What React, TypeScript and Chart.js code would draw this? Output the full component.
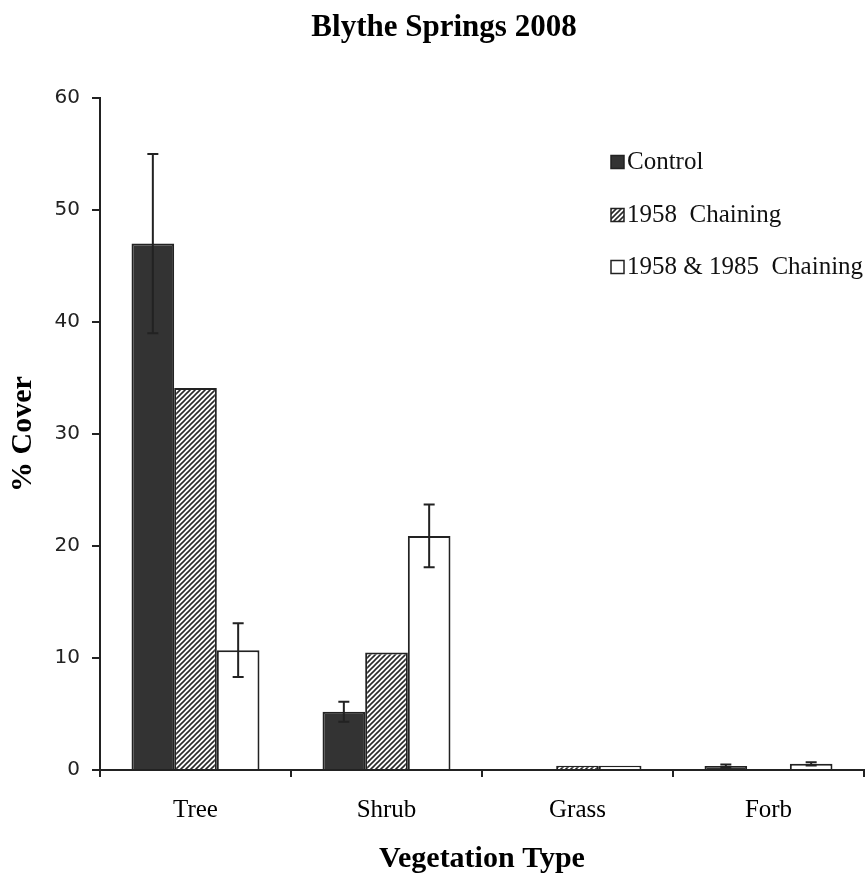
import React, { useEffect, useRef } from "react";
import { Chart, registerables } from "chart.js";

Chart.register(...registerables);

// ---- data ----
const categories = ["Tree", "Shrub", "Grass", "Forb"];
const seriesNames = ["Control", "1958  Chaining", "1958 & 1985  Chaining"];
const controlValues = [47.0, 5.2, 0, 0.35];
const chain1958Values = [34.1, 10.5, 0.38, 0];
const chain19581985Values = [10.7, 20.9, 0.38, 0.55];
const controlErrors: (number | null)[] = [8.0, 0.9, null, 0.15];
const chain1958Errors: (number | null)[] = [null, null, null, null];
const chain19581985Errors: (number | null)[] = [2.4, 2.8, null, 0.15];
const yMin = 0;
const yMax = 60;
const yStep = 10;
const titleText = "Blythe Springs 2008";
const xTitleText = "Vegetation Type";
const yTitleText = "% Cover";

// ---- styles ----
const SERIF = "'Liberation Serif', 'Times New Roman', serif";
const SANS = "'DejaVu Sans', Verdana, sans-serif";
const DARK = "#222222";

function makeHatch(): CanvasPattern | string {
  const n = 5;
  const c = document.createElement("canvas");
  c.width = n;
  c.height = n;
  const g = c.getContext("2d");
  if (!g) return "#888";
  g.fillStyle = "#ffffff";
  g.fillRect(0, 0, n, n);
  g.strokeStyle = "#2a2a2a";
  g.lineWidth = 1.6;
  g.beginPath();
  g.moveTo(0, n);
  g.lineTo(n, 0);
  g.moveTo(-1, 1);
  g.lineTo(1, -1);
  g.moveTo(n - 1, n + 1);
  g.lineTo(n + 1, n - 1);
  g.stroke();
  const p = g.createPattern(c, "repeat");
  return p || "#888";
}

const errorBarPlugin = {
  id: "errorBars",
  afterDatasetsDraw(chart: any) {
    const ctx = chart.ctx;
    const yScale = chart.scales.y;
    ctx.save();
    ctx.strokeStyle = DARK;
    ctx.lineWidth = 2;
    chart.data.datasets.forEach((ds: any, i: number) => {
      const meta = chart.getDatasetMeta(i);
      const errs = ds.errors || [];
      meta.data.forEach((el: any, j: number) => {
        const e = errs[j];
        if (e === null || e === undefined) return;
        const v = ds.data[j];
        const x = el.x;
        const yt = yScale.getPixelForValue(v + e);
        const yb = yScale.getPixelForValue(Math.max(0, v - e));
        const cap = 5.5;
        ctx.beginPath();
        ctx.moveTo(x, yt);
        ctx.lineTo(x, yb);
        ctx.moveTo(x - cap, yt);
        ctx.lineTo(x + cap, yt);
        ctx.moveTo(x - cap, yb);
        ctx.lineTo(x + cap, yb);
        ctx.stroke();
      });
    });
    ctx.restore();
  },
};

const TITLE_X = 444;
const TITLE_Y = 28;

const titlePlugin = {
  id: "customTitle",
  afterDraw(chart: any) {
    const ctx = chart.ctx;
    ctx.save();
    ctx.fillStyle = "#000";
    ctx.font = `bold 31px ${SERIF}`;
    ctx.textAlign = "center";
    ctx.textBaseline = "middle";
    ctx.fillText(titleText, TITLE_X, TITLE_Y);
    ctx.restore();
  },
};

const LEGEND_X = 611;
const LEGEND_ROWS = [162, 215, 267];
const LEGEND_BOX = 13;

const legendPlugin = {
  id: "customLegend",
  afterDraw(chart: any) {
    const ctx = chart.ctx;
    ctx.save();
    chart.data.datasets.forEach((ds: any, i: number) => {
      const cy = LEGEND_ROWS[i];
      ctx.fillStyle = ds.backgroundColor;
      ctx.fillRect(LEGEND_X, cy - LEGEND_BOX / 2, LEGEND_BOX, LEGEND_BOX);
      ctx.strokeStyle = DARK;
      ctx.lineWidth = 1.5;
      ctx.strokeRect(LEGEND_X, cy - LEGEND_BOX / 2, LEGEND_BOX, LEGEND_BOX);
      ctx.fillStyle = "#111";
      ctx.font = `25px ${SERIF}`;
      ctx.textBaseline = "middle";
      ctx.textAlign = "left";
      ctx.fillText(ds.label, LEGEND_X + LEGEND_BOX + 3, cy);
    });
    ctx.restore();
  },
};

export default function App() {
  const ref = useRef<HTMLCanvasElement | null>(null);

  useEffect(() => {
    if (!ref.current) return;
    const hatch = makeHatch();
    const chart = new Chart(ref.current, {
      type: "bar",
      data: {
        labels: categories,
        datasets: [
          {
            label: seriesNames[0],
            data: controlValues,
            backgroundColor: "#333333",
            borderColor: DARK,
            borderWidth: 2,
            errors: controlErrors,
          } as any,
          {
            label: seriesNames[1],
            data: chain1958Values,
            backgroundColor: hatch as any,
            borderColor: DARK,
            borderWidth: 2,
            errors: chain1958Errors,
          } as any,
          {
            label: seriesNames[2],
            data: chain19581985Values,
            backgroundColor: "#ffffff",
            borderColor: DARK,
            borderWidth: 2,
            errors: chain19581985Errors,
          } as any,
        ],
      },
      options: {
        responsive: false,
        animation: false,
        layout: { padding: { left: 0, right: 3, top: 98, bottom: 0 } },
        datasets: {
          bar: { categoryPercentage: 0.67, barPercentage: 1.0 },
        },
        plugins: {
          legend: { display: false },
          tooltip: { enabled: false },
          title: { display: false },
        },
        scales: {
          x: {
            afterFit: (s: any) => {
              s.height = 107;
            },
            grid: {
              offset: true,
              drawOnChartArea: false,
              drawTicks: true,
              tickLength: 7,
              color: DARK,
              lineWidth: 2,
            },
            border: { color: DARK, width: 2 },
            ticks: {
              color: "#000",
              font: { family: SERIF, size: 25 },
              padding: 18,
            },
            title: {
              display: true,
              text: xTitleText,
              color: "#000",
              font: { family: SERIF, size: 30, weight: "bold" },
              padding: { top: 0, bottom: 0 },
            },
          },
          y: {
            min: yMin,
            max: yMax,
            afterFit: (s: any) => {
              s.width = 100;
            },
            grid: {
              drawOnChartArea: false,
              drawTicks: true,
              tickLength: 8,
              color: DARK,
              lineWidth: 2,
            },
            border: { color: DARK, width: 2 },
            ticks: {
              stepSize: yStep,
              color: "#222",
              font: { family: SANS, size: 20 },
              padding: 12,
            },
            title: {
              display: true,
              text: yTitleText,
              color: "#000",
              font: { family: SERIF, size: 30, weight: "bold" },
              padding: { top: 5, bottom: 0 },
            },
          },
        },
      } as any,
      plugins: [errorBarPlugin, legendPlugin, titlePlugin],
    });
    return () => chart.destroy();
  }, []);

  return (
    <div style={{ position: "fixed", left: 0, top: 0, width: 867, height: 877, background: "#fff" }}>
      <canvas ref={ref} width={867} height={877} style={{ display: "block" }} />
    </div>
  );
}
